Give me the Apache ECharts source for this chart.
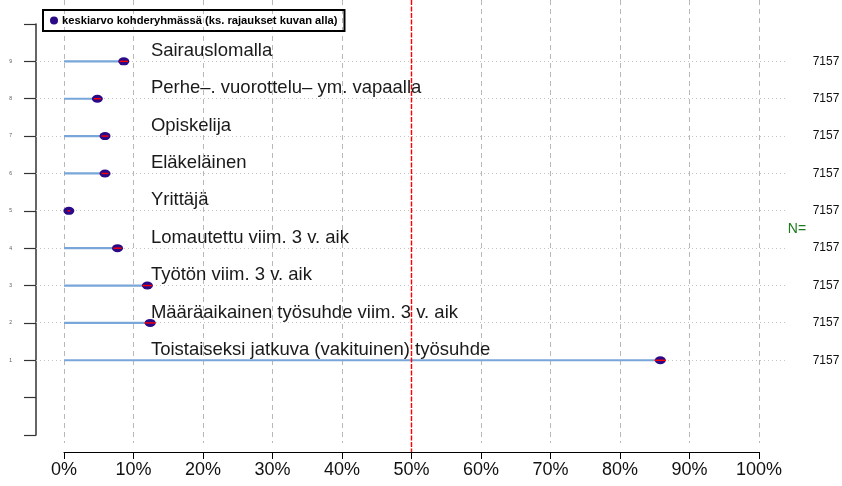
<!DOCTYPE html>
<html>
<head>
<meta charset="utf-8">
<script src="https://cdn.jsdelivr.net/npm/echarts@6/dist/echarts.min.js"></script>
<style>
  html, body { margin: 0; padding: 0; background: #fff; }
  #chart { width: 842px; height: 486px; }
</style>
</head>
<body>
<div id="chart"></div>
<script>
// Respondent groups, bottom row first
const categories = [
  'Toistaiseksi jatkuva (vakituinen) työsuhde',
  'Määräaikainen työsuhde viim. 3 v. aik',
  'Työtön viim. 3 v. aik',
  'Lomautettu viim. 3 v. aik',
  'Yrittäjä',
  'Eläkeläinen',
  'Opiskelija',
  'Perhe–. vuorottelu– ym. vapaalla',
  'Sairauslomalla'
];
const rows = [1, 2, 3, 4, 5, 6, 7, 8, 9];
// Mean share (%) within each group
const means = [85.8, 12.4, 12.0, 7.7, 0.7, 5.9, 5.9, 4.8, 8.6];
// Half-width of the confidence interval (%)
const ciHalf = [0.8, 0.8, 0.7, 0.6, 0.2, 0.5, 0.5, 0.5, 0.6];
// Respondents per group
const counts = [7157, 7157, 7157, 7157, 7157, 7157, 7157, 7157, 7157];
const xTicks = [0, 10, 20, 30, 40, 50, 60, 70, 80, 90, 100];
const refLine = 50;
const legendText = 'keskiarvo kohderyhmässä (ks. rajaukset kuvan alla)';

const FONT = '"Liberation Sans", Arial, Helvetica, sans-serif';
const DOT = '#2a0a86';
const STICK = '#78a6d8';
const RED = '#ff0000';

const crisp = v => Math.round(v - 0.5) + 0.5;

const chart = echarts.init(document.getElementById('chart'), null, { renderer: 'canvas' });

chart.setOption({
  animation: false,
  backgroundColor: '#ffffff',
  textStyle: { fontFamily: FONT },
  grid: { left: 64, right: 83, top: 24, bottom: 51 },
  legend: {
    left: 43, top: 10,
    padding: [5, 7, 5, 7],
    borderColor: '#000', borderWidth: 2,
    itemWidth: 8, itemHeight: 8, itemGap: 4,
    data: [{ name: legendText, icon: 'circle' }],
    itemStyle: { color: DOT, opacity: 1 },
    textStyle: { fontFamily: FONT, fontSize: 11.2, fontWeight: 'bold', color: '#000', padding: [0, 0, 0, -1] }
  },
  xAxis: {
    type: 'value', min: 0, max: 100, interval: 10,
    offset: 17,
    axisLine: { show: true, onZero: false, lineStyle: { color: '#000', width: 1 } },
    axisTick: { show: true, length: 7, lineStyle: { color: '#000' } },
    axisLabel: { formatter: '{value}%', fontSize: 18, color: '#111', margin: 9, fontFamily: FONT },
    splitLine: { show: false }
  },
  yAxis: {
    type: 'value', min: -1, max: 10, interval: 1,
    offset: 28,
    axisLine: { show: true, onZero: false, lineStyle: { color: '#333', width: 1.5 } },
    axisTick: { show: true, length: 12, lineStyle: { color: '#333', width: 1.2 } },
    axisLabel: {
      fontSize: 5, color: '#555', margin: 24, fontFamily: FONT,
      formatter: v => (v >= 1 && v <= 9 ? String(v) : '')
    },
    splitLine: { show: false }
  },
  series: [
    // vertical dashed guides at each x tick (the 50 % position carries the red line)
    {
      type: 'custom', silent: true, z: 1,
      data: xTicks.filter(v => v !== refLine).map(v => [v]),
      renderItem: (params, api) => {
        const cs = params.coordSys;
        const x = crisp(api.coord([api.value(0), 0])[0]);
        return {
          type: 'line', silent: true,
          shape: { x1: x, y1: cs.y - 24, x2: x, y2: cs.y + cs.height + 8 },
          style: { stroke: '#b8b8b8', lineWidth: 1, lineDash: [5, 4] }
        };
      },
      clip: false
    },
    // horizontal dotted guides for each group row
    {
      type: 'custom', silent: true, z: 1,
      data: rows.map(r => [0, r]),
      renderItem: (params, api) => {
        const cs = params.coordSys;
        const y = crisp(api.coord([0, api.value(1)])[1]);
        return {
          type: 'line', silent: true,
          shape: { x1: cs.x - 28, y1: y, x2: cs.x + cs.width + 26, y2: y },
          style: { stroke: '#c4c4c4', lineWidth: 1, lineDash: [1, 3] }
        };
      },
      clip: false
    },
    // sticks from 0 to the mean
    {
      type: 'custom', silent: true, z: 3,
      data: rows.map((r, i) => [means[i], r]),
      renderItem: (params, api) => {
        const p0 = api.coord([0, api.value(1)]);
        const p1 = api.coord([api.value(0), api.value(1)]);
        return {
          type: 'line', silent: true,
          shape: { x1: p0[0], y1: p0[1], x2: p1[0], y2: p1[1] },
          style: { stroke: STICK, lineWidth: 2.2 }
        };
      },
      clip: false
    },
    // mean markers
    {
      name: legendText,
      type: 'scatter', z: 4,
      symbol: 'circle', symbolSize: [11, 8],
      itemStyle: { color: DOT, opacity: 1 },
      data: rows.map((r, i) => [means[i], r])
    },
    // confidence interval ticks through the markers
    {
      type: 'custom', silent: true, z: 5,
      data: rows.map((r, i) => [means[i] - ciHalf[i], means[i] + ciHalf[i], r]),
      renderItem: (params, api) => {
        const a = api.coord([api.value(0), api.value(2)]);
        const b = api.coord([api.value(1), api.value(2)]);
        return {
          type: 'line', silent: true,
          shape: { x1: a[0], y1: a[1], x2: b[0], y2: b[1] },
          style: { stroke: RED, lineWidth: 1.4 }
        };
      },
      clip: false
    },
    // group names above each row
    {
      type: 'custom', silent: true, z: 6,
      data: rows.map((r, i) => [12.5, r, i]),
      renderItem: (params, api) => {
        const p = api.coord([api.value(0), api.value(1)]);
        return {
          type: 'text', silent: true,
          x: p[0], y: p[1] - 1,
          style: {
            text: categories[api.value(2)],
            fontFamily: FONT, fontSize: 18.5, fill: '#1a1a1a',
            align: 'left', verticalAlign: 'bottom'
          }
        };
      },
      clip: false
    },
    // red reference line at 50 %, on top of the labels
    {
      type: 'custom', silent: true, z: 7,
      data: [[refLine]],
      renderItem: (params, api) => {
        const cs = params.coordSys;
        const x = api.coord([api.value(0), 0])[0];
        return {
          type: 'line', silent: true,
          shape: { x1: x, y1: cs.y - 24, x2: x, y2: cs.y + cs.height + 17 },
          style: { stroke: RED, lineWidth: 1.4, lineDash: [5, 1.5] }
        };
      },
      clip: false
    },
    // counts on the right
    {
      type: 'custom', silent: true, z: 6,
      data: rows.map((r, i) => [100, r, i]),
      renderItem: (params, api) => {
        const cs = params.coordSys;
        const y = api.coord([0, api.value(1)])[1];
        return {
          type: 'text', silent: true,
          x: cs.x + cs.width + 67, y: y,
          style: {
            text: String(counts[api.value(2)]),
            fontFamily: FONT, fontSize: 12, fill: '#111',
            align: 'center', verticalAlign: 'middle'
          }
        };
      },
      clip: false
    },
    // "N=" caption at mid height
    {
      type: 'custom', silent: true, z: 6,
      data: [[100, 4.5]],
      renderItem: (params, api) => {
        const cs = params.coordSys;
        const y = api.coord([0, api.value(1)])[1];
        return {
          type: 'text', silent: true,
          x: cs.x + cs.width + 38, y: y,
          style: {
            text: 'N=', fontFamily: FONT, fontSize: 14, fill: '#1b7a1b',
            align: 'center', verticalAlign: 'middle'
          }
        };
      },
      clip: false
    }
  ]
});
</script>
</body>
</html>
